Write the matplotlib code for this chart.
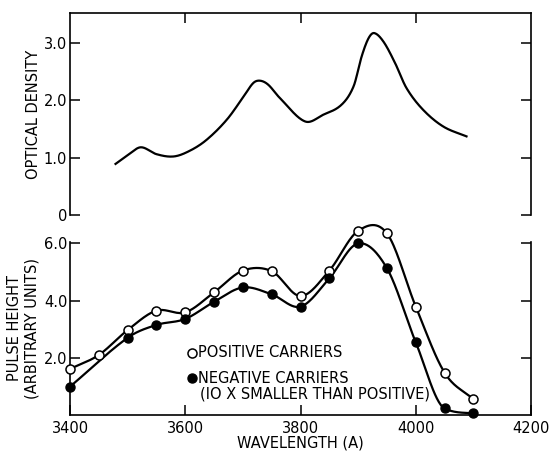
import numpy as np
import matplotlib.pyplot as plt

# optical density curve
od_wl = [3479, 3501, 3523, 3550, 3580, 3608, 3637, 3672, 3701, 3718, 3730, 3744,
         3764, 3808, 3840, 3871, 3892, 3906, 3918, 3928, 3944, 3964, 3984, 4013,
         4048, 4088]
od_val = [0.89, 1.05, 1.18, 1.06, 1.02, 1.12, 1.31, 1.66, 2.06, 2.30, 2.34, 2.27,
          2.04, 1.63, 1.75, 1.92, 2.24, 2.76, 3.08, 3.17, 3.02, 2.65, 2.21, 1.83,
          1.54, 1.37]

# pulse height points
wl = [3400, 3450, 3500, 3550, 3600, 3650, 3700, 3750, 3800, 3850, 3900, 3950,
      4000, 4050, 4100]
pos = [1.61, 2.10, 2.97, 3.65, 3.59, 4.29, 5.05, 5.03, 4.16, 5.05, 6.44, 6.35,
       3.79, 1.48, 0.55]
neg_wl = [3400, 3500, 3550, 3600, 3650, 3700, 3750, 3800, 3850, 3900, 3950,
          4000, 4050, 4100]
neg = [0.99, 2.70, 3.15, 3.36, 3.96, 4.46, 4.22, 3.79, 4.78, 6.00, 5.13,
       2.54, 0.23, 0.06]


def smooth(x, y, n=30):
    # cubic hermite through the points (drawing only), slopes limited on
    # monotone stretches so the curve does not wobble
    x = np.asarray(x, float)
    y = np.asarray(y, float)
    d = np.diff(y) / np.diff(x)
    m = np.empty_like(y)
    m[0], m[-1] = d[0], d[-1]
    m[1:-1] = (y[2:] - y[:-2]) / (x[2:] - x[:-2])
    for k in range(len(d)):
        if d[k] == 0:
            continue
        a, b = m[k] / d[k], m[k + 1] / d[k]
        if a > 0 and b > 0 and a * a + b * b > 9:
            tau = 3 / np.sqrt(a * a + b * b)
            m[k], m[k + 1] = tau * a * d[k], tau * b * d[k]
    xs, ys = [], []
    t = np.linspace(0, 1, n, endpoint=False)
    for k in range(len(d)):
        h = x[k + 1] - x[k]
        h00 = 2 * t ** 3 - 3 * t ** 2 + 1
        h10 = t ** 3 - 2 * t ** 2 + t
        h01 = -2 * t ** 3 + 3 * t ** 2
        h11 = t ** 3 - t ** 2
        xs.extend(x[k] + t * h)
        ys.extend(h00 * y[k] + h10 * h * m[k] + h01 * y[k + 1] + h11 * h * m[k + 1])
    xs.append(x[-1])
    ys.append(y[-1])
    return np.array(xs), np.array(ys)


plt.rcParams['font.family'] = 'DejaVu Sans'
fs = 10.5
fig = plt.figure(figsize=(5.5, 4.53), dpi=100)
ax1 = fig.add_axes([0.1273, 0.5254, 0.8382, 0.4459])
ax2 = fig.add_axes([0.1273, 0.0839, 0.8382, 0.3819])

lw = 1.6
sx, sy = smooth(od_wl, od_val)
ax1.plot(sx, sy, color='black', lw=lw)
ax1.set_xlim(3400, 4200)
ax1.set_ylim(0, 3.52)
ax1.spines['bottom'].set_visible(False)
ax1.set_yticks([0, 1, 2, 3])
ax1.set_yticklabels(['0', '1.0', '2.0', '3.0'])
ax1.set_xticks([3600, 3800, 4000])
ax1.tick_params(axis='x', which='both', bottom=False, labelbottom=False,
                top=True, direction='in', length=7, width=1.1)
ax1.tick_params(axis='y', left=True, right=True, direction='in', length=7,
                width=1.1, labelsize=fs, pad=2)
ax1.set_ylabel('OPTICAL DENSITY', fontsize=fs, labelpad=2)

sx, sy = smooth(wl, pos)
ax2.plot(sx, sy, color='black', lw=lw, clip_on=False)
sx, sy = smooth(neg_wl, neg)
ax2.plot(sx, sy, color='black', lw=lw, clip_on=False)
ax2.plot(wl, pos, 'o', ms=6.5, mfc='white', mec='black', mew=1.1,
         clip_on=False, zorder=3)
ax2.plot(neg_wl, neg, 'o', ms=6.5, mfc='black', mec='black',
         clip_on=False, zorder=3)
ax2.set_xlim(3400, 4200)
ax2.set_ylim(0, 6.05)
ax2.spines['top'].set_visible(False)
ax2.set_yticks([2, 4, 6])
ax2.set_yticklabels(['2.0', '4.0', '6.0'])
ax2.set_xticks([3400, 3600, 3800, 4000, 4200])
ax2.tick_params(axis='y', left=True, right=True, direction='in', length=7,
                width=1.1, labelsize=fs, pad=2)
ax2.tick_params(axis='x', direction='in', length=7, width=1.1,
                labelsize=fs, pad=4)
ax2.set_xlabel('WAVELENGTH (A)', fontsize=fs, labelpad=0)
ax2.set_ylabel('PULSE HEIGHT\n(ARBITRARY UNITS)', fontsize=fs,
               linespacing=1.2, labelpad=3)

for ax in (ax1, ax2):
    for s in ax.spines.values():
        s.set_linewidth(1.2)

# legend text
ax2.plot([3612], [2.17], 'o', ms=6.5, mfc='white', mec='black', mew=1.1)
ax2.text(3622, 2.17, 'POSITIVE CARRIERS', fontsize=fs, va='center')
ax2.plot([3612], [1.29], 'o', ms=6.5, mfc='black', mec='black')
ax2.text(3622, 1.29, 'NEGATIVE CARRIERS', fontsize=fs, va='center')
ax2.text(3625, 0.73, '(IO X SMALLER THAN POSITIVE)', fontsize=fs,
         va='center')

fig.savefig('out.png', dpi=100)
